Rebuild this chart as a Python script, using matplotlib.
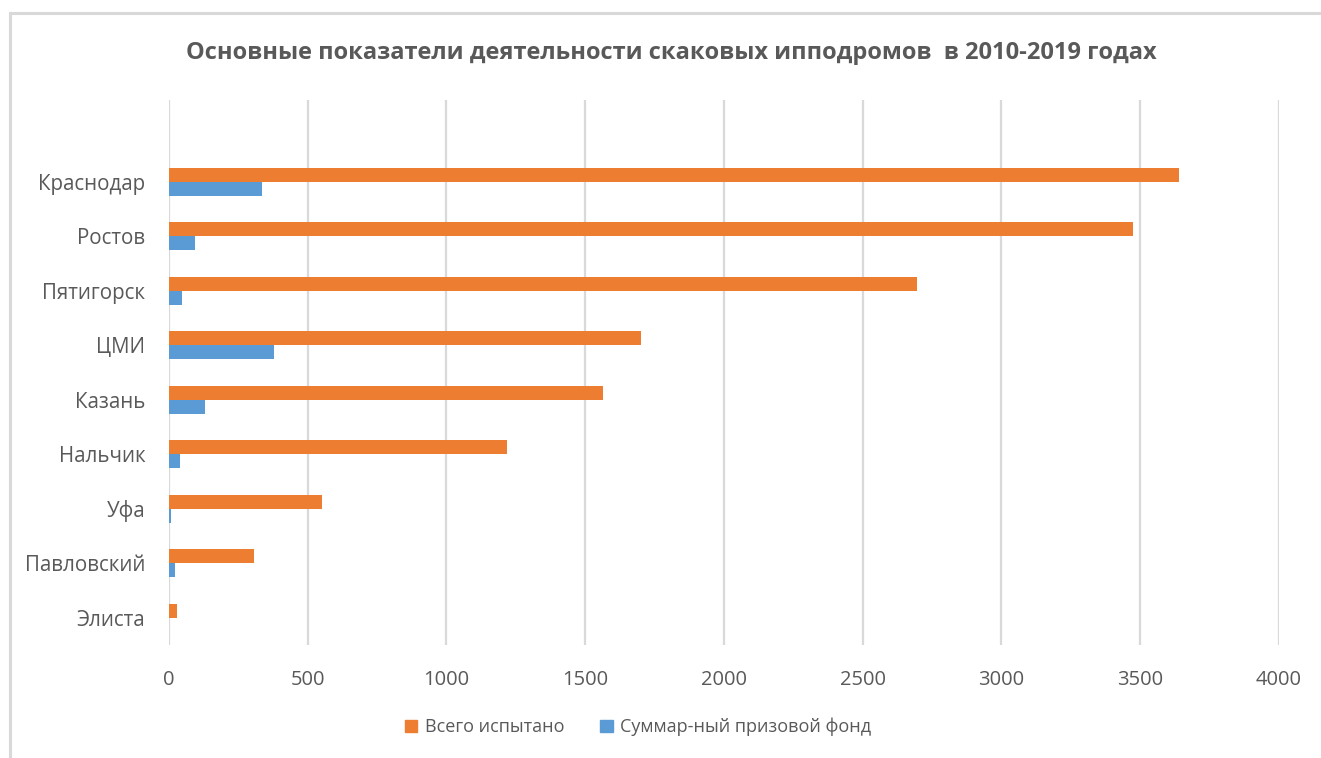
import matplotlib.pyplot as plt
from matplotlib.lines import Line2D
from matplotlib.patches import Patch
import numpy as np

# Данные (снизу вверх, как в Excel)
cities = ['Элиста', 'Павловский', 'Уфа', 'Нальчик', 'Казань', 'ЦМИ', 'Пятигорск', 'Ростов', 'Краснодар']
total_tested = [30, 305, 550, 1218, 1565, 1700, 2695, 3475, 3640]
prize_fund = [0, 22, 6, 40, 130, 377, 48, 94, 336]

orange = '#ED7D31'
blue = '#5B9BD5'
grey_text = '#595959'
grid_col = '#D9D9D9'

plt.rcParams['font.family'] = ['Open Sans', 'DejaVu Sans']

fig = plt.figure(figsize=(13.21, 7.58), dpi=100)
ax = fig.add_axes([169 / 1321, 1 - 645 / 758, (1278.7 - 169) / 1321, (645 - 100) / 758])

y = np.arange(len(cities))
h = 0.257
ax.barh(y + h / 2, total_tested, height=h, color=orange, zorder=3)
ax.barh(y - h / 2, prize_fund, height=h, color=blue, zorder=3)

ax.set_xlim(0, 4000)
ax.set_ylim(-0.5, len(cities) + 0.5)
ax.set_xticks(np.arange(0, 4001, 500))
ax.set_yticks(y)
ax.set_yticklabels(cities)
ax.tick_params(axis='both', length=0, colors=grey_text)
ax.tick_params(axis='x', pad=18, labelsize=14.5)
ax.tick_params(axis='y', pad=17, labelsize=14.8)
ax.xaxis.grid(True, color=grid_col, linewidth=1.6, zorder=0)
for s in ax.spines.values():
    s.set_visible(False)

fig.text(0.508, 1 - 53 / 758, 'Основные показатели деятельности скаковых ипподромов  в 2010-2019 годах',
         ha='center', va='center', fontsize=17, fontweight='bold', color=grey_text)

handles = [Patch(color=orange, label='Всего испытано'),
           Patch(color=blue, label='Суммар-ный призовой фонд')]
fig.legend(handles=handles, loc='center', bbox_to_anchor=(638 / 1321, 1 - 727 / 758), ncol=2,
           frameon=False, fontsize=13, labelcolor=grey_text, handlelength=0.7, handleheight=0.7,
           handletextpad=0.4, columnspacing=2.0)

# рамка диаграммы
fig.add_artist(Line2D([10 / 1321, 10 / 1321], [0, 1 - 13 / 758], color=grid_col, linewidth=2.2))
fig.add_artist(Line2D([10 / 1321, 1], [1 - 13 / 758, 1 - 13 / 758], color=grid_col, linewidth=2.2))

fig.savefig('out.png', dpi=100)
